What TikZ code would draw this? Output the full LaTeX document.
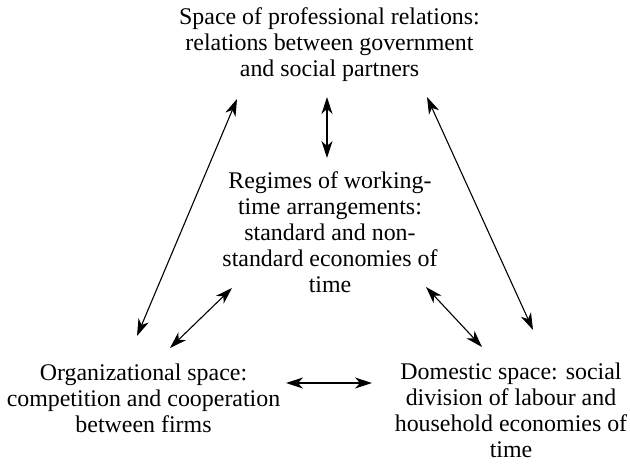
\documentclass[tikz,border=0pt]{standalone}
\usepackage{fontspec}
\setmainfont{Liberation Serif}
\usetikzlibrary{arrows.meta}

\begin{document}
\begin{tikzpicture}[x=0.502pt,y=-0.502pt,
	space/.style={align=center,inner sep=0pt,anchor=base,font=\fontsize{12}{13.05}\selectfont},
	link/.style={{Stealth[length=8.5pt,width=5.5pt,inset=2.5pt]}-{Stealth[length=8.5pt,width=5.5pt,inset=2.5pt]},line width=0.55pt}]

		\useasboundingbox (0,0) rectangle (630,464);

		% Les quatre espaces (base = derniere ligne)
		\node[space] (prof) at (329.5,76) {Space of professional relations:\\relations between government\\and social partners};
		\node[space] (regime) at (330,292) {Regimes of working-\\time arrangements:\\standard and non-\\standard economies of\\time};
		\node[space] (orga) at (143.5,432) {Organizational space:\\competition and cooperation\\between firms};
		\node[space] (dom) at (511,457) {Domestic space: social\\division of labour and\\household economies of\\time};

		% Extremites des fleches
		\coordinate (profL) at (237,99);
		\coordinate (orgaT) at (137,336);
		\coordinate (profR) at (427,97);
		\coordinate (domT) at (533,330);
		\coordinate (profB) at (327,97);
		\coordinate (regimeT) at (327,158);
		\coordinate (regimeL) at (232,288);
		\coordinate (orgaR) at (170,348);
		\coordinate (regimeR) at (426,287);
		\coordinate (domL) at (482,347);
		\coordinate (orgaE) at (286,383);
		\coordinate (domW) at (372,383);

		% Les fleches
		\draw[link] (profL) -- (orgaT);
		\draw[link] (profR) -- (domT);
		\draw[link] (profB) -- (regimeT);
		\draw[link] (regimeL) -- (orgaR);
		\draw[link] (regimeR) -- (domL);
		\draw[link] (orgaE) -- (domW);

\end{tikzpicture}
\end{document}
